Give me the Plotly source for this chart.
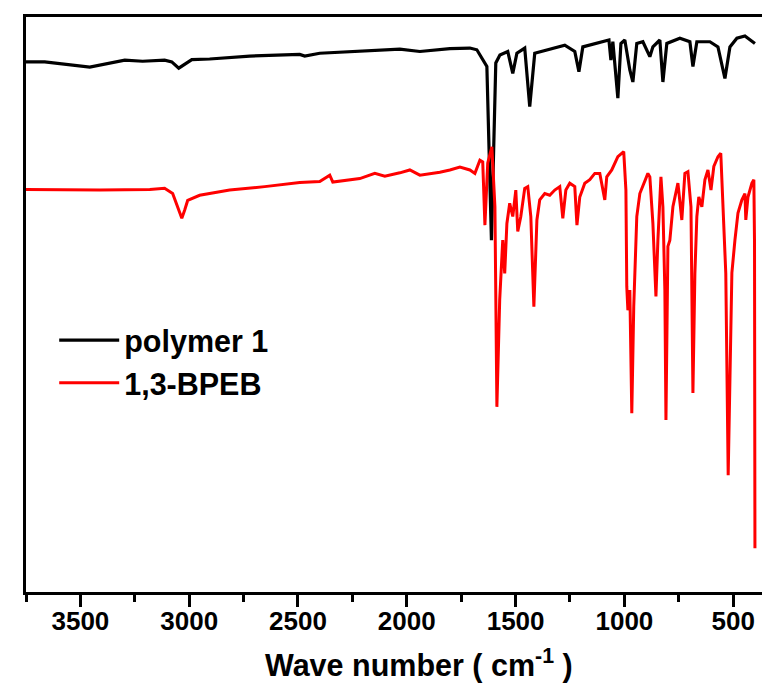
import plotly.graph_objects as go

# polymer 1 (black) : wavenumber (cm-1) and transmittance (a.u.)
poly_wn = [3750, 3664, 3457, 3296, 3214, 3113, 3080, 3048, 2988, 2906, 2722, 2492, 2469, 2400,
           2032, 1940, 1802, 1710, 1678, 1651, 1632, 1611, 1591, 1572, 1536, 1513, 1494, 1458,
           1435, 1412, 1343, 1274, 1228, 1209, 1191, 1136, 1071, 1062, 1053, 1030, 1016, 998,
           975, 961, 943, 915, 883, 869, 837, 823, 805, 745, 699, 685, 667, 607, 570, 538,
           515, 483, 446, 400]
poly_t = [92.2, 92.2, 91.3, 92.5, 92.3, 92.5, 92.2, 91.1, 92.6, 92.7, 93.2, 93.5, 93.2, 93.7,
          94.4, 94.0, 94.5, 94.6, 94.3, 92.5, 91.4, 61.2, 92.0, 93.4, 94.0, 90.2, 93.7, 94.6,
          84.4, 93.7, 94.4, 95.1, 94.0, 90.5, 94.8, 95.4, 96.0, 92.5, 95.7, 85.9, 95.4, 96.0,
          90.8, 88.7, 95.4, 95.7, 93.1, 94.8, 96.0, 88.7, 95.4, 96.3, 95.7, 91.4, 95.7, 95.7,
          94.8, 89.3, 94.8, 96.3, 96.7, 95.4]

# 1,3-BPEB (red)
bpeb_wn = [3751, 3411, 3181, 3113, 3076, 3057, 3034, 3021, 3007, 2952, 2814, 2653, 2492, 2400,
           2354, 2340, 2216, 2147, 2101, 2032, 1986, 1940, 1848, 1802, 1756, 1710, 1687, 1664,
           1651, 1641, 1628, 1609, 1595, 1586, 1573, 1559, 1550, 1540, 1527, 1513, 1499, 1490,
           1476, 1458, 1444, 1430, 1416, 1402, 1389, 1366, 1343, 1320, 1297, 1283, 1269, 1251,
           1228, 1218, 1205, 1182, 1159, 1136, 1113, 1090, 1081, 1058, 1030, 1003, 993, 989,
           984, 975, 966, 957, 943, 929, 906, 892, 883, 869, 855, 846, 832, 823, 814, 809,
           800, 791, 777, 754, 736, 722, 708, 694, 685, 676, 667, 658, 644, 630, 616, 602,
           589, 570, 557, 543, 534, 523, 515, 506, 492, 478, 460, 446, 442, 432, 414, 405,
           402, 400]
bpeb_t = [70.0, 69.9, 70.0, 70.2, 69.3, 67.3, 65.0, 66.4, 68.1, 69.0, 69.9, 70.5, 71.2, 71.4,
          72.5, 71.3, 71.9, 72.8, 72.3, 72.9, 73.4, 72.5, 73.0, 73.4, 73.9, 73.4, 72.8, 75.1,
          74.8, 63.8, 74.6, 77.4, 67.0, 32.2, 50.8, 61.2, 55.4, 64.1, 67.6, 65.3, 69.9, 62.7,
          65.3, 70.2, 70.5, 65.3, 49.6, 64.7, 68.2, 69.3, 69.0, 69.9, 70.5, 65.0, 69.9, 71.1,
          70.5, 63.8, 68.7, 71.1, 71.7, 72.8, 72.8, 68.2, 72.2, 73.4, 75.7, 76.6, 69.9, 53.1,
          49.0, 52.5, 31.1, 49.6, 65.3, 69.3, 71.7, 72.8, 72.2, 64.1, 51.4, 61.2, 72.2, 67.0,
          52.5, 29.9, 60.1, 61.2, 67.0, 71.1, 64.7, 72.8, 73.1, 67.0, 34.6, 55.4, 65.3, 68.7,
          67.0, 71.7, 73.4, 69.9, 74.0, 75.7, 76.3, 64.1, 55.4, 20.3, 38.1, 55.5, 61.2, 65.9,
          68.2, 69.3, 64.7, 68.7, 71.1, 71.7, 61.0, 7.6]

series_names = ["polymer 1", "1,3-BPEB"]
x_tick_vals = [500, 1000, 1500, 2000, 2500, 3000, 3500]
x_minor_vals = [750, 1250, 1750, 2250, 2750, 3250, 3750]
x_range = [3750, 340]
y_range = [0, 100]

FONT = "Arial, Liberation Sans, sans-serif"

fig = go.Figure()
fig.add_trace(go.Scatter(x=poly_wn, y=poly_t, mode="lines", name=series_names[0],
                         line=dict(color="#000000", width=3.2)))
fig.add_trace(go.Scatter(x=bpeb_wn, y=bpeb_t, mode="lines", name=series_names[1],
                         line=dict(color="#ff0000", width=3)))

# the page body has an 8px margin, so the figure is sized to fill the rest of the window
fig.update_layout(
    width=762, height=676,
    margin=dict(l=18, r=2, t=9, b=92, autoexpand=False),
    paper_bgcolor="white", plot_bgcolor="white",
    font=dict(family=FONT, color="black"),
    showlegend=True,
    legend=dict(x=0.038, y=0.484, xanchor="left", yanchor="top",
                bgcolor="rgba(0,0,0,0)", borderwidth=0,
                font=dict(size=30.5, family=FONT, color="black", weight="bold"),
                tracegroupgap=0, itemwidth=60),
    xaxis=dict(range=x_range, tickvals=x_tick_vals, ticktext=[str(v) for v in x_tick_vals],
               showgrid=False, zeroline=False, automargin=False,
               showline=True, linecolor="black", linewidth=3, mirror=True,
               ticks="outside", ticklen=12, tickwidth=3, tickcolor="black",
               ticklabelstandoff=-8,
               tickfont=dict(size=26, family=FONT, color="black", weight="bold"),
               minor=dict(tickvals=x_minor_vals, ticks="outside",
                          ticklen=7, tickwidth=3, tickcolor="black")),
    yaxis=dict(range=y_range, showgrid=False, zeroline=False, showticklabels=False,
               automargin=False,
               ticks="", showline=True, linecolor="black", linewidth=3, mirror=True),
    annotations=[dict(text="Wave number ( cm<sup>-1</sup> )", xref="paper", yref="paper",
                      x=0.53, y=-0.125, xanchor="center", yanchor="middle", showarrow=False,
                      font=dict(size=30.5, family=FONT, color="black", weight="bold"))],
)

fig.write_html("out.html")
